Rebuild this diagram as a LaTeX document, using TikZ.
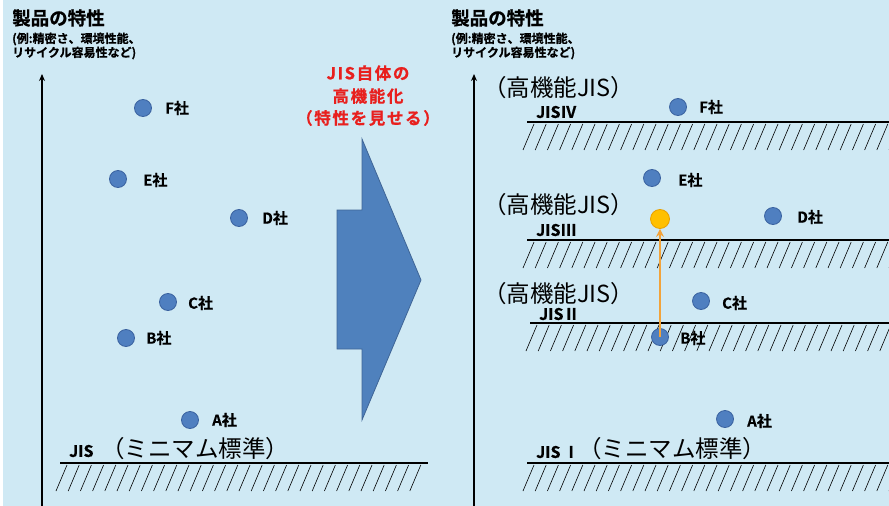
\documentclass[tikz,border=0pt]{standalone}
\usepackage{fontspec}
\setmainfont{Noto Sans CJK JP}
\newfontfamily\jpb[FakeBold=0.6]{Noto Sans CJK JP Bold}
\newfontfamily\jpr[FakeBold=0.6,LetterSpace=10]{Noto Sans CJK JP Bold}
\newfontfamily\jp{Noto Sans CJK JP}
\usetikzlibrary{arrows.meta}
\definecolor{bgblue}{HTML}{CFE9F4}
\definecolor{dotfill}{HTML}{4F7FC0}
\definecolor{dotdraw}{HTML}{3A62A0}
\definecolor{arrfill}{HTML}{4F81BD}
\definecolor{arrdraw}{HTML}{3F6596}
\definecolor{orfill}{HTML}{FFC000}
\definecolor{ordraw}{HTML}{E8A000}
\definecolor{orline}{HTML}{F2A33A}
\definecolor{redtxt}{HTML}{E8201E}
\tikzset{
  dot/.style={circle,fill=dotfill,draw=dotdraw,line width=0.8pt,minimum size=17pt,inner sep=0pt},
  odot/.style={circle,fill=orfill,draw=ordraw,line width=0.8pt,minimum size=19pt,inner sep=0pt},
  corp/.style={anchor=west,inner sep=0pt,font=\jpb\fontsize{15}{15}\selectfont},
  jislbl/.style={anchor=west,inner sep=0pt,font=\jpb\fontsize{16}{16}\selectfont},
  biglbl/.style={anchor=west,inner sep=0pt,font=\jp\fontsize{23.5}{23.5}\selectfont},
  ttl/.style={anchor=west,inner sep=0pt,font=\jpb\fontsize{18.5}{18.5}\selectfont},
  subttl/.style={anchor=west,inner sep=0pt,font=\jpb\fontsize{12}{12}\selectfont},
  redlbl/.style={inner sep=0pt,text=redtxt,font=\jpr\fontsize{16.5}{16.5}\selectfont},
  ground/.style={line width=1.6pt,draw=black},
  hatchln/.style={line width=0.6pt,draw=black},
  axis/.style={line width=1.5pt,-{Stealth[length=7pt,width=6pt]}}
}
\newcommand\hatchband[4]{% y, xstart, count, xend
  \draw[ground] (#2,#1) -- (#4,#1);
  \foreach \i in {0,...,#3}{
    \draw[hatchln] ({#2-4+12.2*\i},{#1+28}) -- ({#2+7+12.2*\i},{#1+2});
  }
}
\begin{document}
\begin{tikzpicture}[x=1pt,y=-1pt]
\useasboundingbox (0,0) rectangle (889,506);
\fill[bgblue] (0,0) rectangle (889,506);
\fill[white] (0,0) rectangle (3,506);
\begin{scope}
\clip (0,0) rectangle (889,506);

% ---------- left panel ----------
\node[ttl] (t1) at (12,18) {製品の特性};
\node[subttl] (s1a) at (12,39) {(例:精密さ、環境性能、};
\node[subttl] (s1b) at (12,53) {リサイクル容易性など)};
\coordinate (ax1b) at (42,506);
\coordinate (ax1t) at (42,74);
\draw[axis] (ax1b) -- (ax1t);

\hatchband{463}{60}{29}{428}
\node[jislbl] (jisL) at (69,451) {JIS};
\node[biglbl] (minL) at (101,449) {（ミニマム標準）};

\node[dot] (F1) at (143,108) {};
\node[dot] (E1) at (118,179) {};
\node[dot] (D1) at (239,218) {};
\node[dot] (C1) at (168,302) {};
\node[dot] (B1) at (126,338) {};
\node[dot] (A1) at (190,420) {};
\node[corp] at (165,108) {F社};
\node[corp] at (143,180) {E社};
\node[corp] at (262,218) {D社};
\node[corp] at (188,303) {C社};
\node[corp] at (146,338) {B社};
\node[corp] at (212,420) {A社};

% ---------- big arrow ----------
\draw[fill=arrfill,draw=arrdraw,line width=0.8pt]
  (337,210) -- (362,210) -- (362,139) -- (421,280) -- (362,420) -- (362,349) -- (337,349) -- cycle;
\node[redlbl] (r1) at (368,73) {JIS自体の};
\node[redlbl] (r2) at (368,96) {高機能化};
\node[redlbl] (r3) at (368,118) {（特性を見せる）};

% ---------- right panel ----------
\node[ttl] (t2) at (451,18) {製品の特性};
\node[subttl] (s2a) at (451,39) {(例:精密さ、環境性能、};
\node[subttl] (s2b) at (451,53) {リサイクル容易性など)};
\coordinate (ax2b) at (474,506);
\coordinate (ax2t) at (474,74);
\draw[axis] (ax2b) -- (ax2t);

\hatchband{122}{527}{30}{889}
\hatchband{240}{527}{30}{889}
\hatchband{323}{530}{30}{889}
\hatchband{463}{527}{30}{889}

\node[biglbl] (h4) at (483,88) {（高機能JIS）};
\node[biglbl] (h3) at (483,205) {（高機能JIS）};
\node[biglbl] (h2) at (483,294) {（高機能JIS）};

\node[jislbl] (j4) at (536,112) {JISⅣ};
\node[jislbl] (j3) at (536,230) {JISⅢ};
\node[jislbl] (j2) at (539,314) {JISⅡ};
\node[jislbl] (j1) at (536,452) {JIS\,Ⅰ};
\node[biglbl] (minR) at (578,449) {（ミニマム標準）};

\node[dot] (F2) at (678,107) {};
\node[dot] (E2) at (652,178) {};
\node[dot] (D2) at (773,216) {};
\node[dot] (C2) at (701,301) {};
\node[dot] (B2) at (660,337) {};
\node[dot] (A2) at (725,419) {};
\node[odot] (O2) at (660,219) {};
\node[corp] at (699,107) {F社};
\node[corp] at (678,180) {E社};
\node[corp] at (797,217) {D社};
\node[corp] at (722,303) {C社};
\node[corp] at (680,338) {B社};
\node[corp] at (747,421) {A社};

\draw[orline,line width=2pt,-{Stealth[length=8pt,width=8pt]}] (B2.center) -- (O2.south);
\end{scope}
\end{tikzpicture}
\end{document}
